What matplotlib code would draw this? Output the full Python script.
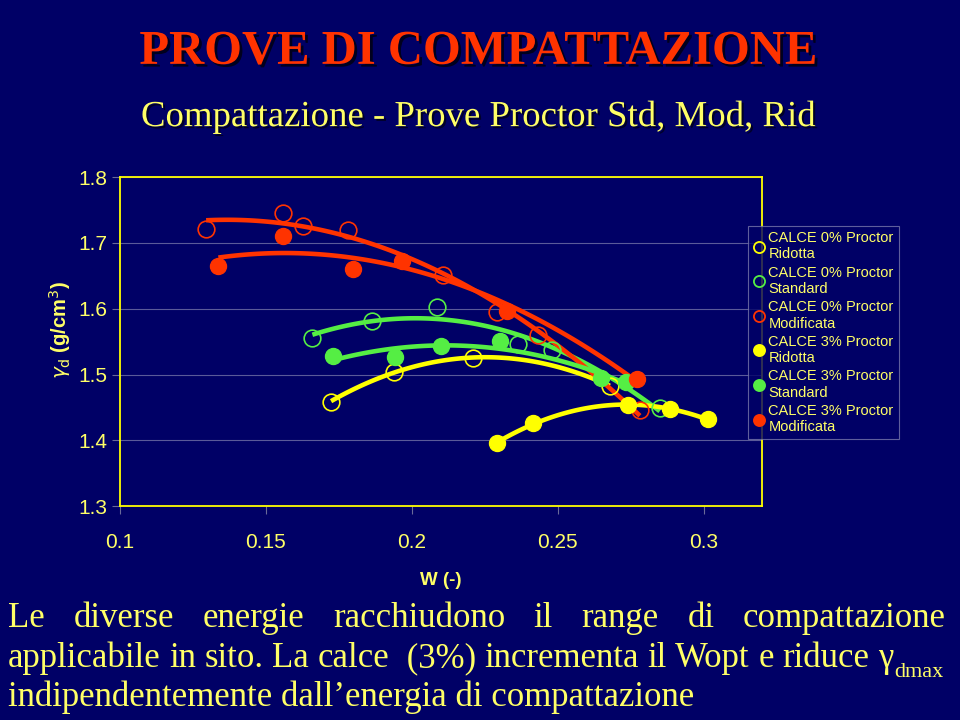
import numpy as np
import matplotlib.pyplot as plt
import matplotlib.patheffects as pe
from matplotlib.lines import Line2D

# colours
BG = '#000066'
YEL = '#FFFF00'
TXT = '#FFFF66'
RED = '#FF3300'
GRN = '#55EE44'

# data (w, gamma_d)
w_rid0 = [0.1723, 0.1937, 0.2210, 0.2678]
g_rid0 = [1.459, 1.504, 1.525, 1.483]

w_std0 = [0.1659, 0.1863, 0.2085, 0.2364, 0.2481, 0.2849]
g_std0 = [1.555, 1.582, 1.603, 1.546, 1.537, 1.449]

w_mod0 = [0.1295, 0.1557, 0.1628, 0.1780, 0.2107, 0.2290, 0.2433, 0.2781]
g_mod0 = [1.721, 1.746, 1.725, 1.720, 1.651, 1.595, 1.560, 1.446]

w_rid3 = [0.2292, 0.2415, 0.2741, 0.2884, 0.3015]
g_rid3 = [1.396, 1.426, 1.454, 1.447, 1.432]

w_std3 = [0.1729, 0.1943, 0.2099, 0.2301, 0.2649, 0.2735]
g_std3 = [1.528, 1.527, 1.543, 1.551, 1.495, 1.488]

w_mod3 = [0.1337, 0.1559, 0.1797, 0.1965, 0.2324, 0.2772]
g_mod3 = [1.665, 1.710, 1.661, 1.673, 1.597, 1.493]

labels = ['CALCE 0% Proctor\nRidotta', 'CALCE 0% Proctor\nStandard',
          'CALCE 0% Proctor\nModificata', 'CALCE 3% Proctor\nRidotta',
          'CALCE 3% Proctor\nStandard', 'CALCE 3% Proctor\nModificata']

series = [(w_rid0, g_rid0, YEL, False), (w_std0, g_std0, GRN, False),
          (w_mod0, g_mod0, RED, False), (w_rid3, g_rid3, YEL, True),
          (w_std3, g_std3, GRN, True), (w_mod3, g_mod3, RED, True)]

fig = plt.figure(figsize=(9.6, 7.2), dpi=100, facecolor=BG)
ax = fig.add_axes([0.125, 0.297, 0.669, 0.457], facecolor=BG)

handles = []
for w, g, c, filled in series:
    w = np.array(w)
    g = np.array(g)
    # polynomial trendline like the original
    p = np.poly1d(np.polyfit(w, g, 2))
    xs = np.linspace(w.min(), w.max(), 100)
    ax.plot(xs, p(xs), color=c, lw=3.3, zorder=3, solid_capstyle='butt')
    if filled:
        ax.plot(w, g, 'o', ms=11.5, mfc=c, mec=c, zorder=4)
    else:
        ax.plot(w, g, 'o', ms=12, mfc='none', mec=c, mew=1.2, zorder=4)
    handles.append(Line2D([], [], ls='none', marker='o', ms=8,
                          mfc=c if filled else 'none', mec=c, mew=1.3))

ax.set_xlim(0.1, 0.32)
ax.set_ylim(1.3, 1.8)
ax.set_xticks([0.1, 0.15, 0.2, 0.25, 0.3])
ax.set_xticklabels(['0.1', '0.15', '0.2', '0.25', '0.3'])
ax.set_yticks([1.3, 1.4, 1.5, 1.6, 1.7, 1.8])
ax.set_yticklabels(['1.3', '1.4', '1.5', '1.6', '1.7', '1.8'])
ax.grid(axis='y', color='#5A5A99', lw=0.8)
ax.set_axisbelow(True)
for s in ax.spines.values():
    s.set_color(YEL)
    s.set_linewidth(1.3)
ax.tick_params(axis='both', colors='#6A6A99', labelcolor=TXT, labelsize=15,
               length=6, width=0.8, labelfontfamily='Liberation Sans')
ax.tick_params(axis='x', pad=13)
ax.tick_params(axis='y', pad=3)

ax.set_xlabel('W (-)', color=TXT, fontsize=13.5, fontweight='bold',
              family='Liberation Sans', labelpad=15)
fig.text(0.063, 0.542, r'$\gamma_{\rm d}$ (g/cm$^{3}$)', rotation=90,
         color=TXT, fontsize=14.5, fontweight='bold', family='Liberation Sans',
         ha='center', va='center')

leg = fig.legend(handles, labels, loc='upper left',
                 bbox_to_anchor=(0.779, 0.686), frameon=True,
                 fontsize=10.5, handlelength=0.8, handletextpad=0.25,
                 labelspacing=0.3, borderpad=0.35, borderaxespad=0)
leg.get_frame().set_facecolor(BG)
leg.get_frame().set_edgecolor('#7777AA')
leg.get_frame().set_linewidth(0.8)
leg.get_frame().set_boxstyle('square', pad=0)
for t in leg.get_texts():
    t.set_color(TXT)
    t.set_family('Liberation Sans')
    t.set_linespacing(1.2)

fig.text(0.498, 0.928, 'PROVE DI COMPATTAZIONE', color=RED, fontsize=35,
         fontweight='bold', family='Liberation Serif', ha='center', va='center',
         path_effects=[pe.SimplePatchShadow(offset=(2, -2), shadow_rgbFace='black', alpha=0.7), pe.Normal()])
fig.text(0.498, 0.838, 'Compattazione - Prove Proctor Std, Mod, Rid', color=TXT,
         fontsize=26.5, family='Liberation Serif', ha='center', va='center',
         path_effects=[pe.SimplePatchShadow(offset=(1.5, -1.5), shadow_rgbFace='black', alpha=0.6), pe.Normal()])

# bottom paragraph, first two lines justified
fs_body = 25
body_kw = dict(color=TXT, fontsize=fs_body, family='Liberation Serif', va='baseline')
W = fig.get_figwidth() * fig.dpi
H = fig.get_figheight() * fig.dpi


def justify(words, x0, x1, ybase):
    texts = [fig.text(0, 1 - ybase / H, wd, **body_kw) for wd in words]
    fig.canvas.draw()
    r = fig.canvas.get_renderer()
    widths = [t.get_window_extent(r).width for t in texts]
    gap = ((x1 - x0) - sum(widths)) / (len(words) - 1)
    x = x0
    for t, wdt in zip(texts, widths):
        t.set_x(x / W)
        x += wdt + gap
    return texts


justify('Le diverse energie racchiudono il range di compattazione'.split(),
        8, 946, 627)
line2 = justify(['applicabile', 'in', 'sito.', 'La', 'calce', ' (3%)', 'incrementa',
                 'il', 'Wopt', 'e', 'riduce', 'γ'], 8, 893, 667)
fig.canvas.draw()
ext = line2[-1].get_window_extent(fig.canvas.get_renderer())
fig.text(ext.x1 / W + 0.001, 1 - 677 / H, 'dmax', color=TXT, fontsize=16,
         family='Liberation Serif', va='baseline')
fig.text(8 / W, 1 - 706 / H, 'indipendentemente dall\u2019energia di compattazione',
         **body_kw)

fig.savefig('out.png', dpi=100, facecolor=BG)
